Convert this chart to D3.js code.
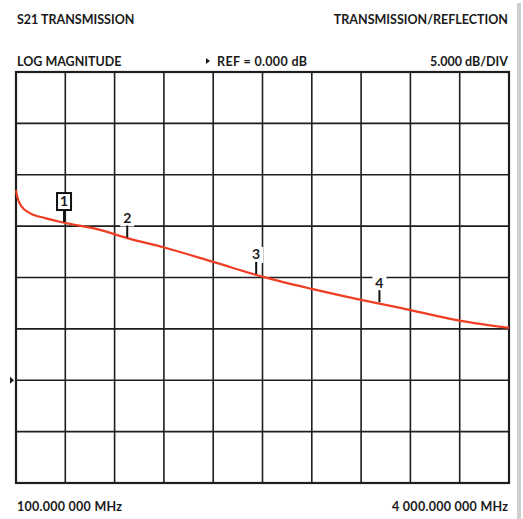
<!DOCTYPE html>
<html>
<head>
<meta charset="utf-8">
<script src="https://d3js.org/d3.v7.min.js"></script>
<style>
  body { margin: 0; background: #fff; }
  text { font-family: Lato, "Open Sans", sans-serif; font-weight: 700; fill: #1a1a1a; }
</style>
</head>
<body>
<svg id="viz"></svg>
<script>
// trace (MHz, dB)
const freqs = [100, 110, 145, 210, 330, 475, 765, 980, 1265, 1660, 2055, 2440, 2830, 3140, 3610, 4000];
const gains = [18.5, 17.85, 16.9, 16.27, 15.78, 15.35, 14.64, 13.83, 12.95, 11.52, 10.06, 8.89, 7.82, 7.04, 5.8, 5.09];

const markerIds = ["1", "2", "3", "4"];
const markerFreqs = [480, 980, 2000, 2975];
const markerGains = [15.3, 13.8, 10.25, 7.5];

const startFreq = 100, stopFreq = 4000;
const refLevel = 0, dbPerDiv = 5;
const xDivs = 10, yDivs = 8, refDiv = 2; // ref line is 2 divs above bottom

const width = 523, height = 519;
const plotLeft = 16, plotRight = 509, plotTop = 72, plotBottom = 483;

const svg = d3.select("#viz").attr("width", width).attr("height", height);

const x = d3.scaleLinear().domain([startFreq, stopFreq]).range([plotLeft, plotRight]);
const y = d3.scaleLinear()
  .domain([refLevel - refDiv * dbPerDiv, refLevel + (yDivs - refDiv) * dbPerDiv])
  .range([plotBottom, plotTop]);

const xGrid = d3.range(xDivs + 1).map((i) => startFreq + (i * (stopFreq - startFreq)) / xDivs);
const yGrid = d3.range(yDivs + 1).map((i) => y.domain()[0] + i * dbPerDiv);

// scrollbar strip on the right
svg.append("rect").attr("x", 517).attr("y", 3).attr("width", 4).attr("height", height)
  .attr("fill", "#cfcfcf");

// headers
svg.append("text").attr("x", 17).attr("y", 24).attr("font-size", 12.5).text("S21 TRANSMISSION");
svg.append("text").attr("x", 508).attr("y", 24).attr("font-size", 12.5)
  .attr("text-anchor", "end").text("TRANSMISSION/REFLECTION");
svg.append("text").attr("x", 17).attr("y", 66).attr("font-size", 12.5).text("LOG MAGNITUDE");
svg.append("path").attr("d", "M206,58 L210,61 L206,64 Z").attr("fill", "#1a1a1a");
svg.append("text").attr("x", 217).attr("y", 66).attr("font-size", 12.5)
  .attr("textLength", 90).text("REF = 0.000 dB");
svg.append("text").attr("x", 508).attr("y", 66).attr("font-size", 12.5)
  .attr("text-anchor", "end").text("5.000 dB/DIV");
svg.append("text").attr("x", 17).attr("y", 511).attr("font-size", 12.5)
  .attr("textLength", 105).text("100.000 000 MHz");
svg.append("text").attr("x", 392).attr("y", 511).attr("font-size", 12.5)
  .attr("textLength", 116).text("4 000.000 000 MHz");

// grid
const grid = svg.append("g").attr("stroke", "#1e1e1e").attr("stroke-width", 1.6);
grid.selectAll("line.v").data(xGrid.slice(1, -1)).join("line").attr("class", "v")
  .attr("x1", (d) => x(d)).attr("x2", (d) => x(d)).attr("y1", plotTop).attr("y2", plotBottom);
grid.selectAll("line.h").data(yGrid.slice(1, -1)).join("line").attr("class", "h")
  .attr("y1", (d) => y(d)).attr("y2", (d) => y(d)).attr("x1", plotLeft).attr("x2", plotRight);
svg.append("rect").attr("x", plotLeft).attr("y", plotTop)
  .attr("width", plotRight - plotLeft).attr("height", plotBottom - plotTop)
  .attr("fill", "none").attr("stroke", "#1e1e1e").attr("stroke-width", 2.2);

// reference arrow
svg.append("path")
  .attr("d", `M10,${y(refLevel) - 3.5} L14,${y(refLevel)} L10,${y(refLevel) + 3.5} Z`)
  .attr("fill", "#1a1a1a");

// label backgrounds (they break the grid lines)
const markers = markerIds.map((id, i) => ({ id: id, f: markerFreqs[i], g: markerGains[i], boxed: i === 0 }));
const mk = svg.append("g");
mk.selectAll("rect.bg").data(markers.filter((m) => !m.boxed)).join("rect").attr("class", "bg")
  .attr("x", (d) => x(d.f) - 7).attr("y", (d) => y(d.g) - 28).attr("width", 14).attr("height", 16)
  .attr("fill", "#fff");

// trace
const line = d3.line().x((d) => x(d[0])).y((d) => y(d[1])).curve(d3.curveMonotoneX);
svg.append("path").datum(d3.zip(freqs, gains)).attr("d", line)
  .attr("fill", "none").attr("stroke", "#ef3e23").attr("stroke-width", 2.2);

// markers
mk.raise();
mk.selectAll("line.tick").data(markers).join("line").attr("class", "tick")
  .attr("x1", (d) => x(d.f)).attr("x2", (d) => x(d.f))
  .attr("y1", (d) => y(d.g) - 1).attr("y2", (d) => y(d.g) - 13)
  .attr("stroke", "#111").attr("stroke-width", 2);
mk.selectAll("rect.box").data(markers.filter((m) => m.boxed)).join("rect").attr("class", "box")
  .attr("x", (d) => x(d.f) - 7).attr("y", (d) => y(d.g) - 30).attr("width", 14).attr("height", 17)
  .attr("fill", "#fff").attr("stroke", "#111").attr("stroke-width", 2);
mk.selectAll("text").data(markers).join("text")
  .attr("x", (d) => x(d.f)).attr("y", (d) => y(d.g) - (d.boxed ? 17 : 15.5))
  .attr("text-anchor", "middle").attr("font-size", 14).text((d) => d.id);
</script>
</body>
</html>
